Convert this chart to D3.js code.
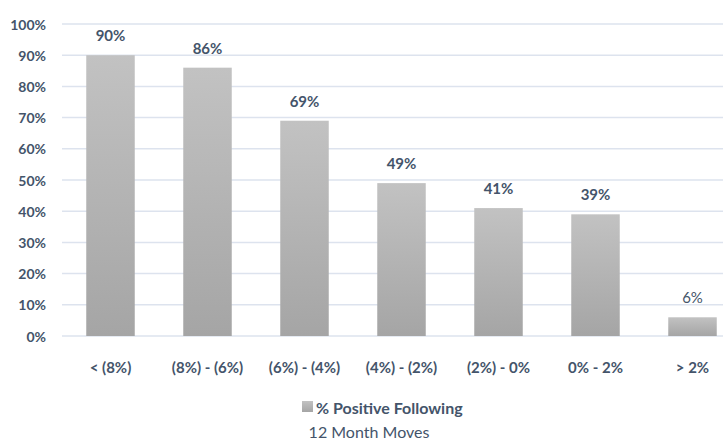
<!DOCTYPE html>
<html>
<head>
<meta charset="utf-8">
<script src="https://cdn.jsdelivr.net/npm/d3@7"></script>
<style>
  body { margin: 0; background: #fff; }
  text { font-family: Lato, "Open Sans", sans-serif; fill: #44546a; }
</style>
</head>
<body>
<script>
const categories = ['< (8%)', '(8%) - (6%)', '(6%) - (4%)', '(4%) - (2%)', '(2%) - 0%', '0% - 2%', '> 2%'];
const values = [0.90, 0.86, 0.69, 0.49, 0.41, 0.39, 0.06];
const yTicks = [0, 0.1, 0.2, 0.3, 0.4, 0.5, 0.6, 0.7, 0.8, 0.9, 1.0];
const seriesName = '% Positive Following';
const axisTitle = '12 Month Moves';

const width = 723;
const height = 440;

const svg = d3.select('body').append('svg').attr('width', width).attr('height', height);

const defs = svg.append('defs');
const grad = defs.append('linearGradient').attr('id', 'barGrad')
	.attr('x1', 0).attr('y1', 0).attr('x2', 0).attr('y2', 1);
grad.append('stop').attr('offset', '0%').attr('stop-color', '#c2c2c2');
grad.append('stop').attr('offset', '100%').attr('stop-color', '#a5a5a5');

const x = d3.scaleBand().domain(categories).range([ 62, 741 ]).paddingInner(0.5).paddingOuter(0.25);
const y = d3.scaleLinear().domain([ 0, 1 ]).range([ 336, 24 ]);

// gridlines
svg.append('g').selectAll('line').data(yTicks).join('line')
	.attr('x1', 62).attr('x2', width)
	.attr('y1', (d) => y(d)).attr('y2', (d) => y(d))
	.attr('stroke', '#dde3ee').attr('stroke-width', 1.5);

// y tick labels
svg.append('g').selectAll('text').data(yTicks).join('text')
	.attr('x', 46).attr('y', (d) => y(d))
	.attr('text-anchor', 'end').attr('dominant-baseline', 'central')
	.style('font-size', '14px').style('font-weight', 'bold')
	.text(d3.format('.0%'));

// bars
svg.append('g').selectAll('rect').data(values).join('rect')
	.attr('x', (d, i) => x(categories[i]))
	.attr('width', x.bandwidth())
	.attr('y', (d) => y(d))
	.attr('height', (d) => y(0) - y(d))
	.attr('fill', 'url(#barGrad)');

// value labels
svg.append('g').selectAll('text').data(values).join('text')
	.attr('x', (d, i) => x(categories[i]) + x.bandwidth() / 2)
	.attr('y', (d) => y(d) - 20)
	.attr('text-anchor', 'middle').attr('dominant-baseline', 'central')
	.style('font-size', '15px').style('font-weight', (d, i) => i === values.length - 1 ? 'normal' : 'bold')
	.text(d3.format('.0%'));

// category labels
svg.append('g').selectAll('text').data(categories).join('text')
	.attr('x', (d) => x(d) + x.bandwidth() / 2)
	.attr('y', 367)
	.attr('text-anchor', 'middle').attr('dominant-baseline', 'central')
	.style('font-size', '15px').style('font-weight', 'bold')
	.text((d) => d);

// legend
svg.append('rect').attr('x', 302).attr('y', 401).attr('width', 11).attr('height', 11).attr('fill', 'url(#barGrad)');
svg.append('text').attr('x', 316).attr('y', 407).attr('dominant-baseline', 'central')
	.style('font-size', '16px').style('font-weight', 'bold').text(seriesName);
svg.append('text').attr('x', 369).attr('y', 431).attr('text-anchor', 'middle').attr('dominant-baseline', 'central')
	.style('font-size', '16px').text(axisTitle);
</script>
</body>
</html>
